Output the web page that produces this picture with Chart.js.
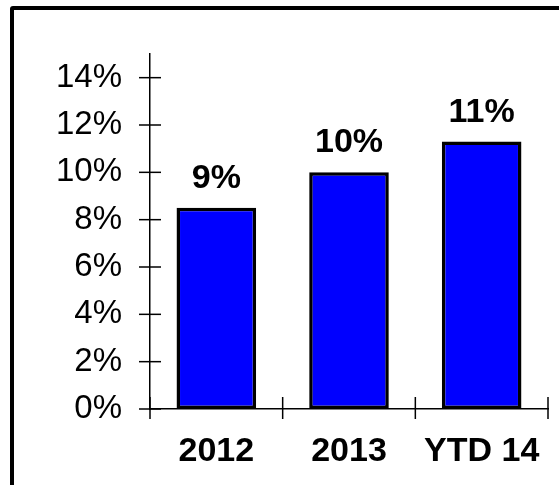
<!DOCTYPE html>
<html>
<head>
<meta charset="utf-8">
<script src="https://cdn.jsdelivr.net/npm/chart.js@4/dist/chart.umd.min.js"></script>
<style>
  html, body { margin: 0; padding: 0; background: #fff; overflow: hidden; }
  body { width: 559px; height: 485px; position: relative; }
  #frame {
    position: absolute; left: 10px; top: 6px;
    width: 600px; height: 520px;
    border: 4px solid #000; border-radius: 3px;
    box-sizing: border-box;
  }
  #c { position: absolute; left: 0; top: 0; }
</style>
</head>
<body>
<div id="frame"></div>
<canvas id="c" width="559" height="485"></canvas>
<script>
const categories = ['2012', '2013', 'YTD 14'];
const rates = [8.5, 10.0, 11.3];
const tickValues = [0, 2, 4, 6, 8, 10, 12, 14];

const FONT = '"Liberation Sans", Arial, Helvetica, sans-serif';

// cross-shaped tick marks on both axes
const crossTicks = {
  id: 'crossTicks',
  afterDraw(chart) {
    const { ctx } = chart;
    const x = chart.scales.x, y = chart.scales.y;
    const axisX = x.left, axisY = y.bottom;
    ctx.save();
    ctx.strokeStyle = '#000';
    ctx.lineWidth = 1.5;
    y.ticks.forEach((t, i) => {
      const py = y.getPixelForTick(i);
      ctx.beginPath();
      ctx.moveTo(axisX - 11, py);
      ctx.lineTo(axisX + 11, py);
      ctx.stroke();
    });
    const n = categories.length;
    for (let i = 0; i <= n; i++) {
      const px = x.left + i * (x.right - x.left) / n;
      ctx.beginPath();
      ctx.moveTo(px, axisY - 12);
      ctx.lineTo(px, axisY + 10);
      ctx.stroke();
    }
    ctx.restore();
  }
};

// rounded percentage written above each bar
const barValues = {
  id: 'barValues',
  afterDatasetsDraw(chart) {
    const { ctx } = chart;
    const meta = chart.getDatasetMeta(0);
    ctx.save();
    ctx.fillStyle = '#000';
    ctx.font = 'bold 34px ' + FONT;
    ctx.textAlign = 'center';
    ctx.textBaseline = 'alphabetic';
    meta.data.forEach((bar, i) => {
      const v = chart.data.datasets[0].data[i];
      ctx.fillText(Math.round(v) + '%', bar.x, bar.y - 20);
    });
    ctx.restore();
  }
};

new Chart(document.getElementById('c'), {
  type: 'bar',
  data: {
    labels: categories,
    datasets: [{
      data: rates,
      backgroundColor: '#0000FF',
      borderColor: '#000',
      borderWidth: 3.5,
      borderSkipped: false,
      barPercentage: 0.6,
      categoryPercentage: 1.0
    }]
  },
  options: {
    responsive: false,
    animation: false,
    events: [],
    layout: { padding: { left: 0, right: 11, top: 54, bottom: 0 } },
    plugins: { legend: { display: false }, tooltip: { enabled: false } },
    scales: {
      x: {
        grid: { display: false, drawTicks: false },
        border: { display: true, color: '#000', width: 1.5 },
        ticks: {
          color: '#000',
          padding: 22,
          font: { family: FONT, size: 34, weight: 'bold' }
        },
        afterFit(scale) {
          scale.height = 76;
          scale.paddingLeft = 0;
          scale.paddingRight = 0;
        }
      },
      y: {
        min: 0,
        max: 15,
        grid: { display: false, drawTicks: false },
        border: { display: true, color: '#000', width: 1.5 },
        ticks: {
          stepSize: 1,
          color: '#000',
          padding: 28,
          font: { family: FONT, size: 33 },
          callback: (v) => v + '%'
        },
        afterBuildTicks(scale) {
          scale.ticks = tickValues.map(v => ({ value: v }));
        },
        afterFit(scale) {
          scale.width = 150;
          scale.paddingTop = 0;
          scale.paddingBottom = 0;
        }
      }
    }
  },
  plugins: [crossTicks, barValues]
});
</script>
</body>
</html>
